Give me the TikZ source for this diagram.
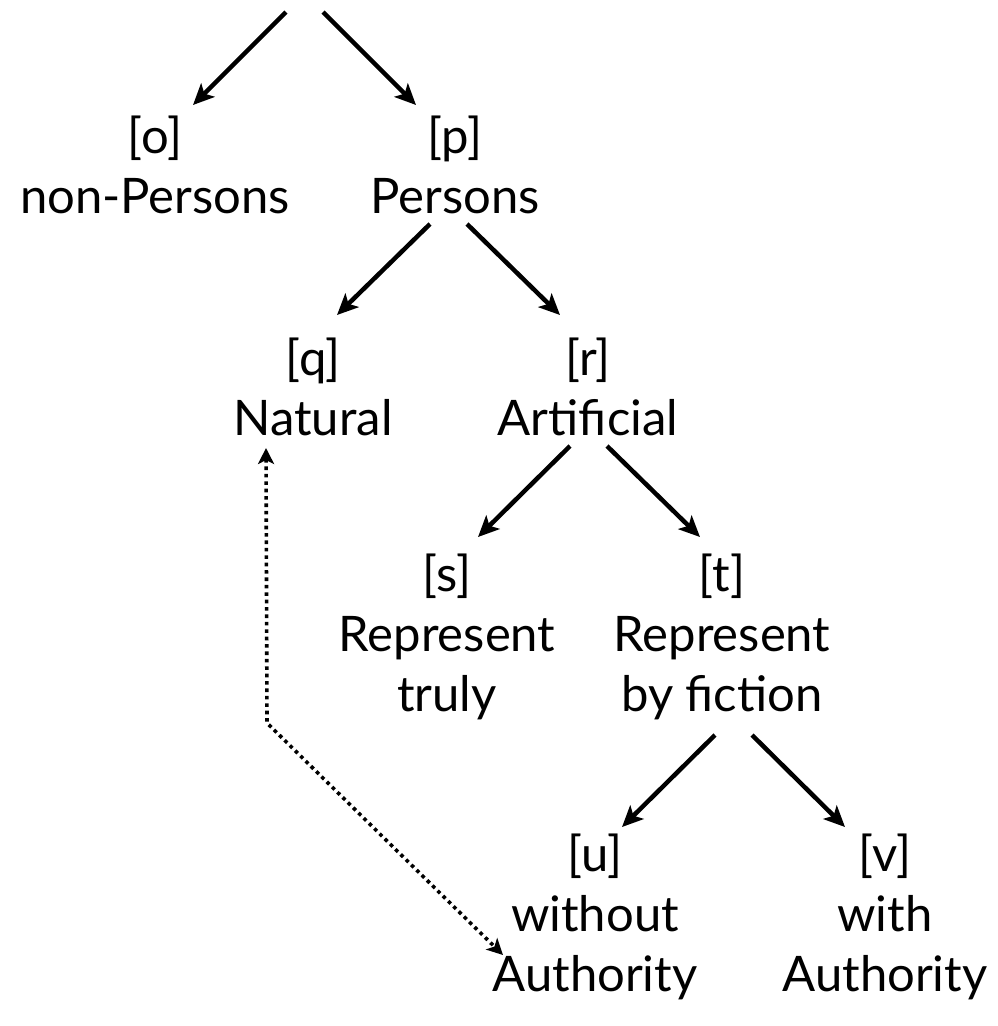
\documentclass[tikz,border=0pt]{standalone}
\usepackage{fontspec}
\setmainfont{Lato}
\usetikzlibrary{arrows.meta,calc}
\begin{document}
\begin{tikzpicture}[x=1pt,y=-1pt,
  lbl/.style={align=center,inner sep=0pt,font=\fontsize{49}{60}\selectfont},
  arr/.style={-{Stealth[length=21pt,width=19pt,inset=5pt]},line width=4.5pt},
  dotarr/.style={{Stealth[length=16pt,width=16pt,inset=4pt]}-{Stealth[length=16pt,width=16pt,inset=4pt]},
    line width=3.6pt,dash pattern=on 3.6pt off 3.8pt}]
\useasboundingbox (0,0) rectangle (997,1026);
% classification labels
\node[lbl] (o) at (155,165) {[o]\\non-Persons};
\node[lbl] (p) at (455,165) {[p]\\Persons};
\node[lbl] (q) at (313,387) {[q]\\Natural};
\node[lbl] (r) at (588,387) {[r]\\Artificial};
\node[lbl] (s) at (447,637) {[s]\\Represent\\truly};
\node[lbl] (t) at (722,637) {[t]\\Represent\\by fiction};
\node[lbl] (u) at (595,917) {[u]\\without\\Authority};
\node[lbl] (v) at (885,917) {[v]\\with\\Authority};
% open ends of the top branches
\coordinate (rootL) at (286,12);
\coordinate (rootR) at (323,12);
% branches
\draw[arr] (rootL) -- ($(o)+(38,-60)$);
\draw[arr] (rootR) -- ($(p)+(-39,-60)$);
\draw[arr] ($(p)+(-25,59)$) -- ($(q)+(24,-72)$);
\draw[arr] ($(p)+(12,59)$) -- ($(r)+(-28,-72)$);
\draw[arr] ($(r)+(-18,59)$) -- ($(s)+(31,-100)$);
\draw[arr] ($(r)+(19,59)$) -- ($(t)+(-22,-100)$);
\draw[arr] ($(t)+(-7,98)$) -- ($(u)+(27,-90)$);
\draw[arr] ($(t)+(30,98)$) -- ($(v)+(-40,-90)$);
% dotted cross link
\coordinate (bend) at ($(q)+(-46,336)$);
\draw[dotarr] ($(q)+(-47,61)$) -- (bend) -- ($(u)+(-92,38)$);
\end{tikzpicture}
\end{document}
